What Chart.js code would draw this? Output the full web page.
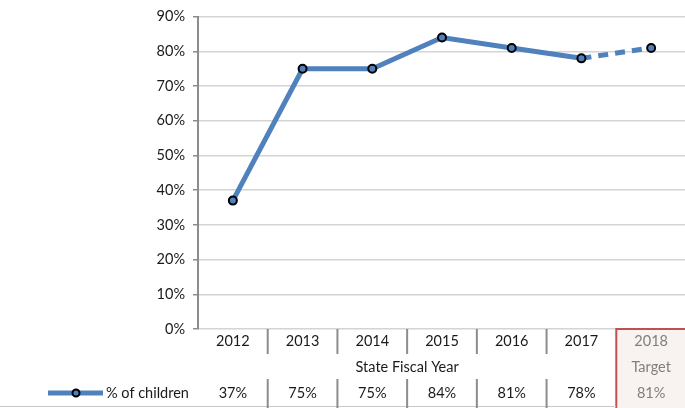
<!DOCTYPE html>
<html>
<head>
<meta charset="utf-8">
<script src="https://cdn.jsdelivr.net/npm/chart.js@4"></script>
<style>
  html, body { margin: 0; padding: 0; background: #fff; }
  #wrap { width: 685px; height: 408px; position: relative; overflow: hidden; }
</style>
</head>
<body>
<div id="wrap"><canvas id="myChart" width="692" height="408"></canvas></div>
<script>
'use strict';

// data
let years = ['2012', '2013', '2014', '2015', '2016', '2017', '2018'];
let percentChildren = [37, 75, 75, 84, 81, 78, 81];
let yTicks = [0, 10, 20, 30, 40, 50, 60, 70, 80, 90];
let seriesName = '% of children';
let axisTitle = 'State Fiscal Year';
let targetLabel = 'Target';

let lineBlue = '#4f81bd';
let fontName = 'Lato';
let fontSize = 14.5;

// draws the data table under the plot
let tablePlugin = {
  id: 'dataTable',
  afterDraw(chart) {
    let ctx = chart.ctx;
    let xs = chart.scales.x;
    let area = chart.chartArea;
    let step = xs.getPixelForValue(1) - xs.getPixelForValue(0);
    let last = years.length - 1;
    let boxLeft = xs.getPixelForValue(last) - step / 2;
    let W = chart.width;

    ctx.save();

    // target column box
    ctx.fillStyle = '#f8f3f0';
    ctx.fillRect(boxLeft, area.bottom, W - boxLeft, 408 - area.bottom);
    ctx.strokeStyle = '#c0504d';
    ctx.lineWidth = 2;
    ctx.beginPath();
    ctx.moveTo(W, area.bottom);
    ctx.lineTo(boxLeft, area.bottom);
    ctx.lineTo(boxLeft, 408);
    ctx.stroke();

    // bottom border
    ctx.strokeStyle = '#c8c8c8';
    ctx.lineWidth = 1;
    ctx.beginPath();
    ctx.moveTo(0, 406.5);
    ctx.lineTo(boxLeft, 406.5);
    ctx.stroke();

    // dividers
    ctx.strokeStyle = '#8c8c8c';
    ctx.lineWidth = 2;
    for (let i = 1; i < last; i++) {
      let x = xs.getPixelForValue(i) - step / 2;
      ctx.beginPath();
      ctx.moveTo(x, area.bottom);
      ctx.lineTo(x, area.bottom + 25);
      ctx.moveTo(x, area.bottom + 50);
      ctx.lineTo(x, area.bottom + 79);
      ctx.stroke();
    }

    ctx.font = fontSize + 'px ' + fontName;
    ctx.textAlign = 'center';
    ctx.textBaseline = 'middle';
    for (let i = 0; i < years.length; i++) {
      let x = xs.getPixelForValue(i);
      ctx.fillStyle = i === last ? '#7f7f7f' : '#1a1a1a';
      ctx.fillText(years[i], x, area.bottom + 12);
      ctx.fillText(percentChildren[i] + '%', x, area.bottom + 64);
    }
    ctx.fillStyle = '#7f7f7f';
    ctx.fillText(targetLabel, xs.getPixelForValue(last), area.bottom + 38);

    ctx.fillStyle = '#1a1a1a';
    ctx.fillText(axisTitle, (area.left + boxLeft) / 2, area.bottom + 38);

    // legend
    let ly = area.bottom + 64;
    ctx.strokeStyle = lineBlue;
    ctx.lineWidth = 5;
    ctx.beginPath();
    ctx.moveTo(48, ly);
    ctx.lineTo(103, ly);
    ctx.stroke();
    ctx.fillStyle = lineBlue;
    ctx.strokeStyle = '#000';
    ctx.lineWidth = 2;
    ctx.beginPath();
    ctx.arc(76, ly, 3.5, 0, Math.PI * 2);
    ctx.fill();
    ctx.stroke();
    ctx.fillStyle = '#1a1a1a';
    ctx.textAlign = 'left';
    ctx.fillText(seriesName, 106, ly);

    ctx.restore();
  }
};

const ctx = document.getElementById('myChart');
new Chart(ctx, {
  type: 'line',
  data: {
    labels: years,
    datasets: [{
      label: seriesName,
      data: percentChildren,
      borderColor: lineBlue,
      borderWidth: 5,
      backgroundColor: lineBlue,
      pointBackgroundColor: lineBlue,
      pointBorderColor: '#000',
      pointBorderWidth: 2,
      pointRadius: 4,
      tension: 0,
      segment: {
        borderDash: c => (c.p1DataIndex === years.length - 1 ? [10, 7] : undefined)
      }
    }]
  },
  options: {
    responsive: false,
    animation: false,
    layout: { padding: { top: 16, bottom: 79, left: 0, right: 0 } },
    plugins: {
      legend: { display: false },
      tooltip: { enabled: false }
    },
    scales: {
      x: {
        display: false,
        offset: true
      },
      y: {
        min: 0,
        max: 90,
        afterFit(scale) { scale.width = 198; },
        afterBuildTicks(scale) { scale.ticks = yTicks.map(v => ({ value: v })); },
        ticks: {
          color: '#1a1a1a',
          font: { family: fontName, size: fontSize },
          padding: 8,
          callback: v => v + '%'
        },
        grid: {
          color: '#d4d4d4',
          lineWidth: 1.5,
          tickColor: '#8c8c8c',
          tickLength: 5
        },
        border: { color: '#8c8c8c', width: 2 }
      }
    }
  },
  plugins: [tablePlugin]
});
</script>
</body>
</html>
